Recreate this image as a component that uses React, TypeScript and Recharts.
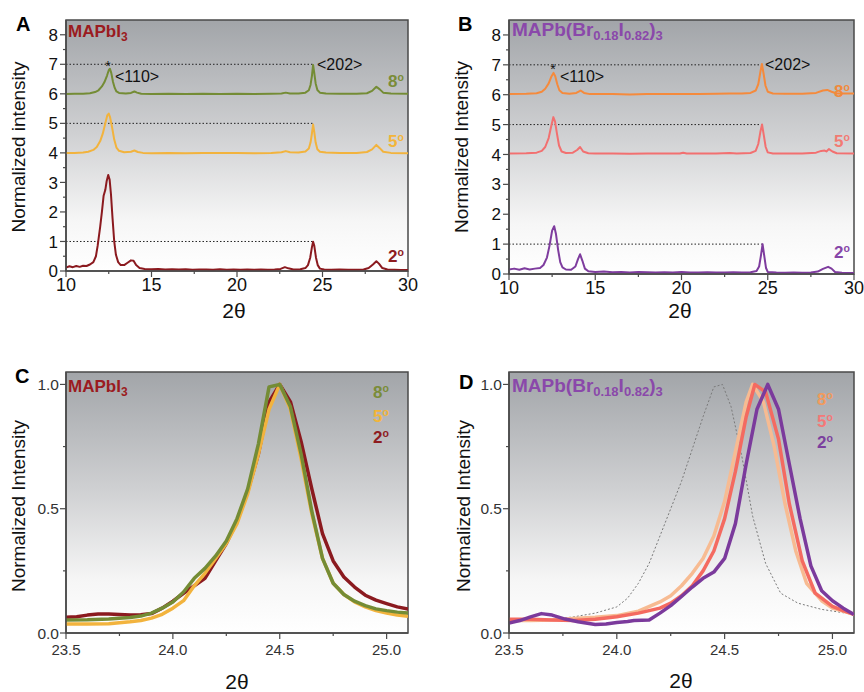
import React from 'react';
import { LineChart, Line, XAxis, YAxis, ReferenceArea, ReferenceLine } from 'recharts';

type P = [number, number];

// ---------- Panel A : MAPbI3, wide scan (offset traces) ----------
const a2: P[] = [[10,0.12],[10.2,0.16],[10.4,0.13],[10.6,0.17],[10.8,0.14],[11.0,0.18],[11.2,0.17],[11.4,0.22],[11.6,0.3],[11.75,0.5],[11.85,0.85],[12.0,1.5],[12.1,2.0],[12.2,2.55],[12.3,2.75],[12.38,3.05],[12.47,3.25],[12.55,3.1],[12.63,2.6],[12.72,1.8],[12.82,1.0],[12.92,0.55],[13.05,0.3],[13.2,0.2],[13.4,0.2],[13.6,0.28],[13.8,0.36],[13.95,0.35],[14.1,0.2],[14.3,0.1],[14.6,0.07],[15,0.06],[15.4,0.07],[15.8,0.05],[16.2,0.06],[16.6,0.05],[17,0.06],[17.4,0.04],[17.8,0.05],[18.2,0.05],[18.6,0.04],[19,0.06],[19.4,0.04],[19.8,0.05],[20.2,0.04],[20.6,0.05],[21,0.04],[21.4,0.05],[21.8,0.04],[22.2,0.05],[22.55,0.07],[22.8,0.13],[23.0,0.09],[23.3,0.05],[23.7,0.06],[24.0,0.1],[24.15,0.2],[24.28,0.45],[24.38,0.8],[24.45,0.99],[24.52,0.85],[24.62,0.45],[24.72,0.2],[24.85,0.08],[25.1,0.05],[25.5,0.04],[26,0.05],[26.5,0.04],[27,0.04],[27.4,0.05],[27.7,0.1],[27.95,0.22],[28.15,0.33],[28.3,0.25],[28.5,0.1],[28.8,0.05],[29.2,0.04],[29.6,0.03],[30,0.03]];
const a5: P[] = [[10,4.0],[10.5,4.0],[11,4.01],[11.3,4.04],[11.6,4.1],[11.8,4.2],[12.0,4.4],[12.15,4.65],[12.3,5.0],[12.42,5.28],[12.5,5.33],[12.58,5.2],[12.7,4.85],[12.82,4.45],[12.95,4.18],[13.1,4.07],[13.4,4.02],[13.8,4.04],[14.0,4.08],[14.2,4.03],[14.5,4.0],[15,3.99],[16,4.0],[17,3.99],[18,4.0],[19,4.0],[20,4.0],[21,3.99],[22,4.0],[22.6,4.02],[22.85,4.06],[23.1,4.02],[23.6,4.01],[24.0,4.05],[24.2,4.15],[24.3,4.35],[24.38,4.65],[24.45,4.96],[24.52,4.7],[24.6,4.35],[24.7,4.12],[24.85,4.04],[25.2,4.01],[26,4.0],[27,4.0],[27.6,4.03],[27.9,4.12],[28.15,4.27],[28.35,4.16],[28.55,4.04],[29,4.0],[30,3.99]];
const a8: P[] = [[10,5.99],[10.5,6.0],[11,6.0],[11.4,6.02],[11.7,6.06],[11.9,6.12],[12.1,6.25],[12.25,6.4],[12.4,6.62],[12.5,6.8],[12.57,6.85],[12.65,6.7],[12.75,6.4],[12.85,6.2],[12.95,6.08],[13.1,6.03],[13.5,6.01],[13.8,6.03],[14.0,6.08],[14.15,6.04],[14.4,6.0],[15,5.99],[16,6.0],[17,5.99],[18,6.0],[19,5.99],[20,6.0],[21,5.99],[22,6.0],[22.6,6.01],[22.85,6.04],[23.1,6.01],[23.6,6.01],[24.0,6.04],[24.2,6.12],[24.3,6.3],[24.38,6.6],[24.45,6.98],[24.52,6.7],[24.6,6.35],[24.7,6.13],[24.85,6.04],[25.2,6.01],[26,6.0],[27,6.0],[27.6,6.02],[27.9,6.1],[28.15,6.24],[28.35,6.15],[28.55,6.04],[29,6.01],[30,6.0]];

// ---------- Panel B : MAPb(Br0.18I0.82)3, wide scan ----------
const b2: P[] = [[10,0.15],[10.3,0.18],[10.6,0.14],[10.9,0.19],[11.2,0.15],[11.5,0.18],[11.8,0.2],[12.0,0.3],[12.2,0.55],[12.35,0.95],[12.5,1.45],[12.62,1.6],[12.72,1.35],[12.85,0.8],[12.97,0.4],[13.1,0.22],[13.3,0.15],[13.6,0.14],[13.85,0.25],[14.0,0.5],[14.12,0.66],[14.25,0.45],[14.4,0.18],[14.6,0.09],[15,0.07],[15.5,0.08],[16,0.06],[16.5,0.07],[17,0.05],[17.5,0.07],[18,0.06],[18.5,0.05],[19,0.06],[19.5,0.05],[20,0.07],[20.5,0.05],[21,0.05],[21.5,0.06],[22,0.05],[22.5,0.05],[23,0.06],[23.5,0.05],[24.0,0.06],[24.35,0.1],[24.5,0.25],[24.6,0.6],[24.7,1.0],[24.8,0.6],[24.9,0.2],[25.0,0.07],[25.5,0.05],[26,0.04],[26.5,0.05],[27,0.04],[27.5,0.05],[27.9,0.08],[28.2,0.17],[28.5,0.24],[28.7,0.18],[28.9,0.07],[29.3,0.04],[30,0.03]];
const b5: P[] = [[10,4.03],[11,4.04],[11.6,4.06],[11.9,4.12],[12.1,4.25],[12.3,4.55],[12.45,4.95],[12.57,5.25],[12.67,5.1],[12.78,4.7],[12.9,4.3],[13.05,4.1],[13.3,4.05],[13.7,4.06],[13.95,4.15],[14.12,4.25],[14.3,4.1],[14.6,4.04],[15,4.03],[16,4.03],[17,4.02],[18,4.03],[19,4.03],[19.9,4.03],[20.1,4.06],[20.3,4.03],[21,4.03],[22,4.03],[22.8,4.05],[23.2,4.03],[24.0,4.05],[24.3,4.12],[24.45,4.35],[24.57,4.75],[24.67,5.0],[24.77,4.65],[24.88,4.25],[25.0,4.07],[25.3,4.03],[26,4.03],[27,4.03],[27.8,4.06],[28.1,4.12],[28.3,4.13],[28.4,4.1],[28.55,4.18],[28.75,4.1],[29,4.04],[30,4.03]];
const b8: P[] = [[10,6.02],[11,6.03],[11.6,6.05],[11.9,6.1],[12.1,6.2],[12.3,6.38],[12.45,6.6],[12.58,6.73],[12.68,6.62],[12.8,6.35],[12.92,6.15],[13.1,6.06],[13.5,6.03],[13.9,6.06],[14.15,6.14],[14.35,6.06],[14.7,6.02],[15,6.02],[16,6.02],[17,6.01],[18,6.02],[19,6.02],[20,6.02],[21,6.02],[22,6.03],[22.8,6.04],[23.5,6.04],[24.0,6.06],[24.3,6.14],[24.45,6.35],[24.57,6.75],[24.66,7.03],[24.76,6.7],[24.87,6.3],[25.0,6.1],[25.3,6.04],[26,6.03],[27,6.03],[27.8,6.06],[28.2,6.14],[28.45,6.16],[28.7,6.1],[29,6.04],[30,6.04]];

// ---------- Panel C : MAPbI3, <202> peak ----------
const c2: P[] = [[23.5,0.063],[23.55,0.065],[23.6,0.072],[23.65,0.076],[23.7,0.076],[23.75,0.074],[23.8,0.072],[23.85,0.073],[23.9,0.078],[23.95,0.1],[24.0,0.128],[24.05,0.16],[24.1,0.19],[24.15,0.22],[24.2,0.29],[24.25,0.36],[24.3,0.45],[24.35,0.57],[24.4,0.72],[24.45,0.93],[24.5,1.0],[24.55,0.93],[24.6,0.77],[24.65,0.58],[24.7,0.4],[24.75,0.29],[24.8,0.225],[24.85,0.185],[24.9,0.152],[24.95,0.132],[25.0,0.118],[25.05,0.105],[25.1,0.096]];
const c5: P[] = [[23.5,0.036],[23.6,0.036],[23.7,0.037],[23.8,0.045],[23.85,0.05],[23.9,0.06],[23.95,0.075],[24.0,0.1],[24.05,0.13],[24.1,0.19],[24.15,0.24],[24.2,0.3],[24.25,0.36],[24.3,0.44],[24.35,0.56],[24.4,0.72],[24.45,0.9],[24.5,1.0],[24.55,0.9],[24.6,0.7],[24.65,0.48],[24.7,0.3],[24.75,0.2],[24.8,0.155],[24.85,0.125],[24.9,0.105],[24.95,0.09],[25.0,0.08],[25.05,0.072],[25.1,0.067]];
const c8: P[] = [[23.5,0.052],[23.6,0.053],[23.7,0.056],[23.8,0.062],[23.85,0.068],[23.9,0.08],[23.95,0.1],[24.0,0.125],[24.05,0.165],[24.1,0.22],[24.15,0.26],[24.2,0.31],[24.25,0.37],[24.3,0.46],[24.35,0.58],[24.4,0.76],[24.45,0.99],[24.5,1.0],[24.55,0.91],[24.6,0.72],[24.65,0.49],[24.7,0.3],[24.75,0.2],[24.8,0.155],[24.85,0.128],[24.9,0.11],[24.95,0.097],[25.0,0.09],[25.05,0.084],[25.1,0.08]];

// ---------- Panel D : MAPb(Br0.18I0.82)3, <202> peak ----------
const dRef: P[] = [[23.5,0.045],[23.6,0.05],[23.7,0.055],[23.8,0.065],[23.9,0.08],[24.0,0.105],[24.05,0.14],[24.1,0.2],[24.15,0.28],[24.2,0.39],[24.25,0.5],[24.3,0.61],[24.35,0.74],[24.4,0.87],[24.45,0.99],[24.49,1.0],[24.53,0.91],[24.58,0.71],[24.63,0.47],[24.69,0.28],[24.76,0.16],[24.84,0.12],[24.95,0.095],[25.1,0.075]];
const d8: P[] = [[23.5,0.05],[23.6,0.05],[23.7,0.052],[23.8,0.058],[23.9,0.063],[24.0,0.07],[24.1,0.088],[24.2,0.125],[24.25,0.15],[24.3,0.19],[24.35,0.24],[24.4,0.3],[24.45,0.39],[24.5,0.53],[24.55,0.73],[24.6,0.93],[24.63,1.0],[24.68,0.93],[24.73,0.75],[24.78,0.52],[24.83,0.33],[24.88,0.2],[24.95,0.13],[25.0,0.1],[25.1,0.075]];
const d5: P[] = [[23.5,0.055],[23.6,0.055],[23.7,0.052],[23.8,0.05],[23.9,0.055],[24.0,0.065],[24.1,0.08],[24.2,0.1],[24.25,0.12],[24.3,0.15],[24.35,0.19],[24.4,0.25],[24.45,0.33],[24.5,0.46],[24.55,0.65],[24.6,0.87],[24.64,1.0],[24.69,0.97],[24.75,0.78],[24.8,0.52],[24.86,0.29],[24.92,0.16],[25.0,0.107],[25.05,0.09],[25.1,0.075]];
const d2: P[] = [[23.5,0.04],[23.55,0.05],[23.6,0.065],[23.65,0.078],[23.7,0.072],[23.76,0.056],[23.82,0.045],[23.9,0.034],[23.95,0.036],[24.0,0.042],[24.05,0.046],[24.08,0.05],[24.15,0.052],[24.2,0.08],[24.25,0.11],[24.3,0.147],[24.35,0.185],[24.4,0.22],[24.45,0.245],[24.5,0.3],[24.55,0.44],[24.6,0.68],[24.65,0.9],[24.7,1.0],[24.75,0.9],[24.8,0.68],[24.85,0.46],[24.9,0.27],[24.95,0.17],[25.0,0.13],[25.05,0.1],[25.1,0.074]];

// ---------- ticks ----------
const wideXTicks = [10, 12.5, 15, 17.5, 20, 22.5, 25, 27.5, 30];
const wideXMajor = [10, 15, 20, 25, 30];
const wideYTicks = [0, 0.5, 1, 1.5, 2, 2.5, 3, 3.5, 4, 4.5, 5, 5.5, 6, 6.5, 7, 7.5, 8];
const wideYMajor = [0, 1, 2, 3, 4, 5, 6, 7, 8];
const zoomXTicks = [23.5, 23.75, 24.0, 24.25, 24.5, 24.75, 25.0];
const zoomXMajor = [23.5, 24.0, 24.5, 25.0];
const zoomYTicks = [0, 0.25, 0.5, 0.75, 1.0];
const zoomYMajor = [0, 0.5, 1.0];
// dotted guide lines: [level, x-end]
const guideA: P[] = [[7, 24.45], [5, 24.45], [1, 24.45]];
const guideB: P[] = [[7, 24.66], [5, 24.64], [1, 24.66]];

const FONT = "'Liberation Sans', Arial, Helvetica, sans-serif";
const AX = '#4a4a4a';

const rows = (pts: P[]) => pts.map(([x, y]) => ({ x, y }));
const near = (list: number[], v: number) => list.some((m) => Math.abs(m - v) < 1e-9);

function XTick(props: any) {
  const { x, y, payload, major, fs, fill, off, fmt } = props;
  const v = payload.value as number;
  const isMajor = near(major, v);
  const ay = y - 8;
  return (
    <g>
      <line x1={x} x2={x} y1={ay} y2={ay + (isMajor ? 6 : 3)} stroke={AX} strokeWidth={1.2} />
      {isMajor && (
        <text x={x} y={ay + off} textAnchor="middle" fontSize={fs} fill={fill}>{fmt(v)}</text>
      )}
    </g>
  );
}

function YTick(props: any) {
  const { x, y, payload, major, fs, fill, gap, fmt } = props;
  const v = payload.value as number;
  const isMajor = near(major, v);
  const ax = x + 8;
  return (
    <g>
      <line x1={ax} x2={ax - (isMajor ? 6 : 3)} y1={y} y2={y} stroke={AX} strokeWidth={1.2} />
      {isMajor && (
        <text x={ax - gap} y={y + fs * 0.36} textAnchor="end" fontSize={fs} fill={fill}>{fmt(v)}</text>
      )}
    </g>
  );
}

type Series = { pts: P[]; color: string; w: number; dash?: string };

type PanelProps = {
  left: number; top: number; width: number; height: number;
  margin: { top: number; right: number; bottom: number; left: number };
  yWidth: number; xHeight: number;
  xDomain: [number, number]; yDomain: [number, number];
  xTicks: number[]; xMajor: number[]; yTicks: number[]; yMajor: number[];
  xFmt: (v: number) => string; yFmt: (v: number) => string;
  xFs: number; yFs: number; tickFill: string; xOff: number; yGap: number;
  series: Series[]; guides?: P[]; guideStart?: number;
};

function Panel(p: PanelProps) {
  return (
    <div style={{ position: 'absolute', left: p.left, top: p.top }}>
      <LineChart width={p.width} height={p.height} margin={p.margin} style={{ fontFamily: FONT }}>
        <XAxis
          type="number" dataKey="x" domain={p.xDomain} ticks={p.xTicks} interval={0}
          allowDataOverflow tickLine={false} tickSize={6} tickMargin={2} height={p.xHeight}
          axisLine={{ stroke: AX, strokeWidth: 1.5 }}
          tick={<XTick major={p.xMajor} fs={p.xFs} fill={p.tickFill} off={p.xOff} fmt={p.xFmt} />}
        />
        <YAxis
          type="number" domain={p.yDomain} ticks={p.yTicks} interval={0}
          allowDataOverflow tickLine={false} tickSize={6} tickMargin={2} width={p.yWidth}
          axisLine={{ stroke: AX, strokeWidth: 1.5 }}
          tick={<YTick major={p.yMajor} fs={p.yFs} fill={p.tickFill} gap={p.yGap} fmt={p.yFmt} />}
        />
        <ReferenceArea
          x1={p.xDomain[0]} x2={p.xDomain[1]} y1={p.yDomain[0]} y2={p.yDomain[1]}
          fill="url(#bgGrad)" fillOpacity={1} stroke={AX} strokeWidth={1.5}
        />
        {(p.guides || []).map(([lvl, xe], i) => (
          <ReferenceLine
            key={'g' + i}
            segment={[{ x: p.guideStart ?? p.xDomain[0], y: lvl }, { x: xe, y: lvl }]}
            stroke="#222" strokeWidth={1} strokeDasharray="1.5 2"
          />
        ))}
        {p.series.map((s, i) => (
          <Line
            key={'s' + i}
            data={rows(s.pts)} dataKey="y" type="linear" stroke={s.color} strokeWidth={s.w}
            strokeDasharray={s.dash} strokeLinejoin="round" dot={false} activeDot={false}
            isAnimationActive={false}
          />
        ))}
      </LineChart>
    </div>
  );
}

function Deg({ x, y, n, color, fs }: { x: number; y: number; n: string; color: string; fs: number }) {
  return (
    <text x={x} y={y} fill={color} fontSize={fs} fontWeight="bold">
      {n}
      <tspan fontSize={fs * 0.62} dy={-fs * 0.34}>o</tspan>
    </text>
  );
}

const intFmt = (v: number) => String(v);
const oneFmt = (v: number) => v.toFixed(1);

export default function App() {
  const wideCommon = {
    xDomain: [10, 30] as [number, number], yDomain: [0, 8.5] as [number, number],
    xTicks: wideXTicks, xMajor: wideXMajor, yTicks: wideYTicks, yMajor: wideYMajor,
    xFmt: intFmt, yFmt: intFmt, xFs: 18, yFs: 17, tickFill: '#111', xOff: 20, yGap: 8,
  };
  const zoomCommon = {
    xDomain: [23.5, 25.1] as [number, number], yDomain: [0, 1.05] as [number, number],
    xTicks: zoomXTicks, xMajor: zoomXMajor, yTicks: zoomYTicks, yMajor: zoomYMajor,
    xFmt: oneFmt, yFmt: oneFmt, xFs: 15, yFs: 15.5, tickFill: '#333', xOff: 22, yGap: 7,
  };
  return (
    <div style={{ position: 'absolute', left: 0, top: 0, width: 864, height: 692, background: '#fff', fontFamily: FONT }}>
      <Panel
        {...wideCommon}
        left={0} top={0} width={432} height={300}
        margin={{ top: 20, right: 24, bottom: 0, left: 0 }} yWidth={66} xHeight={29}
        guides={guideA}
        series={[
          { pts: a2, color: '#8b1a1f', w: 2 },
          { pts: a5, color: '#f2b33d', w: 2 },
          { pts: a8, color: '#748c35', w: 2 },
        ]}
      />
      <Panel
        {...wideCommon}
        left={432} top={0} width={432} height={300}
        margin={{ top: 20, right: 10, bottom: 0, left: 0 }} yWidth={77} xHeight={26}
        guides={guideB}
        series={[
          { pts: b2, color: '#7e3c9e', w: 2 },
          { pts: b5, color: '#f27070', w: 2 },
          { pts: b8, color: '#f58a3c', w: 2 },
        ]}
      />
      <Panel
        {...zoomCommon}
        left={0} top={330} width={432} height={362}
        margin={{ top: 42, right: 24, bottom: 0, left: 0 }} yWidth={66} xHeight={59}
        series={[
          { pts: c2, color: '#8b1a1f', w: 3.5 },
          { pts: c5, color: '#f2b33d', w: 3.5 },
          { pts: c8, color: '#748c35', w: 3.5 },
        ]}
      />
      <Panel
        {...zoomCommon}
        left={432} top={330} width={432} height={362}
        margin={{ top: 42, right: 10, bottom: 0, left: 0 }} yWidth={77} xHeight={59}
        series={[
          { pts: dRef, color: '#7a7a7a', w: 1, dash: '2 2' },
          { pts: d8, color: '#f7bb92', w: 3.5 },
          { pts: d5, color: '#f46a60', w: 3.5 },
          { pts: d2, color: '#7b3a9c', w: 3.5 },
        ]}
      />

      <svg width={864} height={692} style={{ position: 'absolute', left: 0, top: 0, pointerEvents: 'none' }}>
        <defs>
          <linearGradient id="bgGrad" x1="0" y1="0" x2="0" y2="1">
            <stop offset="0" stopColor="#a2a5a9" />
            <stop offset="0.45" stopColor="#cfd0d2" />
            <stop offset="0.8" stopColor="#f6f6f6" />
            <stop offset="1" stopColor="#ffffff" />
          </linearGradient>
        </defs>
        <g fontFamily={FONT}>
          {/* Panel letters */}
          <text x={16} y={31} fontSize={20} fontWeight="bold" fill="#000">A</text>
          <text x={458} y={31} fontSize={20} fontWeight="bold" fill="#000">B</text>
          <text x={15} y={383} fontSize={20} fontWeight="bold" fill="#000">C</text>
          <text x={459} y={389} fontSize={20} fontWeight="bold" fill="#000">D</text>

          {/* Titles */}
          <text x={68} y={37} fill="#9b1b20" fontSize={17} fontWeight="bold">MAPbI<tspan fontSize={12} dy={4}>3</tspan></text>
          <text x={512} y={36} fill="#8a48aa" fontSize={19} fontWeight="bold">
            MAPb(Br<tspan fontSize={13} dy={4}>0.18</tspan><tspan dy={-4}>I</tspan><tspan fontSize={13} dy={4}>0.82</tspan><tspan dy={-4}>)</tspan><tspan fontSize={13} dy={4}>3</tspan>
          </text>
          <text x={68} y={392} fill="#9b1b20" fontSize={17} fontWeight="bold">MAPbI<tspan fontSize={12} dy={4}>3</tspan></text>
          <text x={512} y={392} fill="#8a48aa" fontSize={19} fontWeight="bold">
            MAPb(Br<tspan fontSize={13} dy={4}>0.18</tspan><tspan dy={-4}>I</tspan><tspan fontSize={13} dy={4}>0.82</tspan><tspan dy={-4}>)</tspan><tspan fontSize={13} dy={4}>3</tspan>
          </text>

          {/* Peak annotations */}
          <text x={108} y={71} fontSize={14} textAnchor="middle" fill="#111">*</text>
          <text x={115} y={82} fontSize={16} fill="#111">&lt;110&gt;</text>
          <text x={317} y={70} fontSize={16} fill="#111">&lt;202&gt;</text>
          <text x={553} y={74} fontSize={14} textAnchor="middle" fill="#111">*</text>
          <text x={560} y={82} fontSize={16} fill="#111">&lt;110&gt;</text>
          <text x={765} y={70} fontSize={16} fill="#111">&lt;202&gt;</text>

          {/* Tilt-angle labels */}
          <Deg x={388} y={87} n="8" color="#7a8c38" fs={17} />
          <Deg x={388} y={147} n="5" color="#f2b53a" fs={17} />
          <Deg x={388} y={262} n="2" color="#8e1b1f" fs={17} />
          <Deg x={834} y={97} n="8" color="#f08a3c" fs={17} />
          <Deg x={834} y={147} n="5" color="#f27b73" fs={17} />
          <Deg x={834} y={258} n="2" color="#8746a8" fs={17} />
          <Deg x={373} y={398} n="8" color="#7a8c38" fs={17} />
          <Deg x={373} y={422} n="5" color="#f2b53a" fs={17} />
          <Deg x={373} y={443} n="2" color="#8e1b1f" fs={17} />
          <Deg x={817} y={405} n="8" color="#f29a5c" fs={17} />
          <Deg x={817} y={427} n="5" color="#f47878" fs={17} />
          <Deg x={817} y={448} n="2" color="#7b3f9e" fs={17} />

          {/* Axis titles */}
          <text transform="translate(25,147) rotate(-90)" textAnchor="middle" fontSize={19} fill="#111">Normalized intensity</text>
          <text transform="translate(468,147) rotate(-90)" textAnchor="middle" fontSize={19} fill="#111">Normalized Intensity</text>
          <text transform="translate(25,506) rotate(-90)" textAnchor="middle" fontSize={19} fill="#111">Normalized Intensity</text>
          <text transform="translate(470,506) rotate(-90)" textAnchor="middle" fontSize={19} fill="#111">Normalized Intensity</text>
          <text x={234} y={318} textAnchor="middle" fontSize={21} fill="#111">2θ</text>
          <text x={680} y={318} textAnchor="middle" fontSize={21} fill="#111">2θ</text>
          <text x={237} y={689} textAnchor="middle" fontSize={21} fill="#111">2θ</text>
          <text x={681} y={688} textAnchor="middle" fontSize={21} fill="#111">2θ</text>
        </g>
      </svg>
    </div>
  );
}
